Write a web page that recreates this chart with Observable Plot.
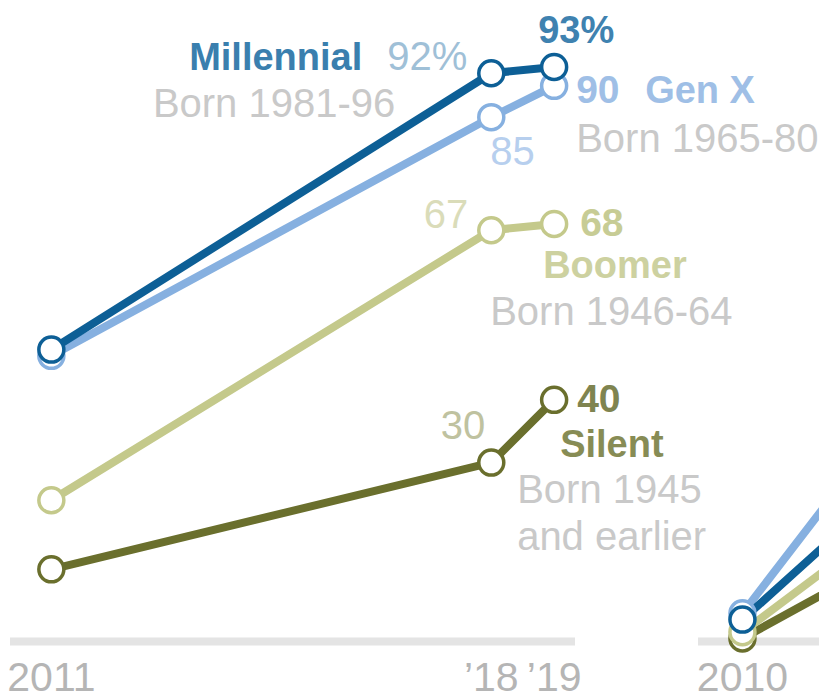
<!DOCTYPE html>
<html><head><meta charset="utf-8">
<script src="https://cdn.jsdelivr.net/npm/d3@7"></script>
<script src="https://cdn.jsdelivr.net/npm/@observablehq/plot@0.6"></script>
<style>
html,body{margin:0;padding:0;background:#fff;overflow:hidden;}
#wrap{position:relative;width:819px;height:699px;overflow:hidden;background:#fff;}
#wrap svg{position:absolute;top:0;}
</style></head><body><div id="wrap"></div>
<script>
// ---- data ----
const generations = ["Silent", "Boomer", "Gen X", "Millennial"];
const colors = ["#6a6f2d", "#c4c98b", "#86b0e0", "#0d5f96"];
const bornLabels = ["Born 1945\nand earlier", "Born 1946-64", "Born 1965-80", "Born 1981-96"];

const yearsLeft = [2011, 2018, 2019];
const silentLeft = [13, 30, 40];
const boomerLeft = [24, 67, 68];
const genXLeft = [47, 85, 90];
const millennialLeft = [48, 92, 93];
const tickLabelsLeft = ["2011", "\u201918", "\u201919"];

const yearsRight = [2010, 2012];
const silentRight = [2, 13];
const boomerRight = [3, 18];
const genXRight = [6, 32];
const millennialRight = [5, 23];
const ticksRight = [2010];
const tickLabelsRight = ["2010"];

// ---- build rows ----
function toRows(years, seriesList) {
  const out = [];
  generations.forEach((g, i) => years.forEach((yr, j) => out.push({gen: g, year: yr, value: seriesList[i][j]})));
  return out;
}
const leftRows = toRows(yearsLeft, [silentLeft, boomerLeft, genXLeft, millennialLeft]);
const rightRows = toRows(yearsRight, [silentRight, boomerRight, genXRight, millennialRight]);

const font = "'Liberation Sans', Arial, Helvetica, sans-serif";
const H = 699;
const pick = (g, yr) => leftRows.filter(d => d.gen === g && d.year === yr);
const valueText = d => d.gen === "Millennial" ? `${d.value}%` : `${d.value}`;
const nameOf = g => generations[generations.indexOf(g)];
const bornOf = g => bornLabels[generations.indexOf(g)];

function lab(g, yr, text, opts) {
  return Plot.text(pick(g, yr), {x: "year", y: "value", text, lineAnchor: "bottom", fontSize: 40, ...opts});
}

const labels = [
  // Millennial
  lab("Millennial", 2018, valueText, {textAnchor: "end", dx: -24, dy: -3, fill: "#9fc0d7"}),
  lab("Millennial", 2018, d => nameOf(d.gen), {textAnchor: "end", dx: -129, dy: -3, fill: "#3a7fae", fontWeight: "bold", fontSize: 38}),
  lab("Millennial", 2018, d => bornOf(d.gen), {textAnchor: "end", dx: -96, dy: 44, fill: "#c9c9c9"}),
  lab("Millennial", 2019, valueText, {textAnchor: "start", dx: -16, dy: -24, fill: "#3f82b0", fontWeight: "bold", fontSize: 38}),
  // Gen X
  lab("Gen X", 2018, valueText, {textAnchor: "start", dx: -1, dy: 48, fill: "#b7cfee"}),
  lab("Gen X", 2019, valueText, {textAnchor: "start", dx: 22, dy: 17, fill: "#9fbfe6", fontWeight: "bold", fontSize: 39}),
  lab("Gen X", 2019, d => nameOf(d.gen), {textAnchor: "start", dx: 91, dy: 17, fill: "#9fbfe6", fontWeight: "bold", fontSize: 38}),
  lab("Gen X", 2019, d => bornOf(d.gen), {textAnchor: "start", dx: 22, dy: 66, fill: "#c9c9c9"}),
  // Boomer
  lab("Boomer", 2018, valueText, {textAnchor: "end", dx: -23, dy: -2, fill: "#dadcb9"}),
  lab("Boomer", 2019, valueText, {textAnchor: "start", dx: 26, dy: 12, fill: "#c7cc95", fontWeight: "bold", fontSize: 39}),
  lab("Boomer", 2019, d => nameOf(d.gen), {textAnchor: "start", dx: -11, dy: 54, fill: "#cdd1a0", fontWeight: "bold", fontSize: 38}),
  lab("Boomer", 2019, d => bornOf(d.gen), {textAnchor: "start", dx: -64, dy: 101, fill: "#c9c9c9"}),
  // Silent
  lab("Silent", 2018, valueText, {textAnchor: "end", dx: -6, dy: -24, fill: "#bfc2a0"}),
  lab("Silent", 2019, valueText, {textAnchor: "start", dx: 23, dy: 12, fill: "#7f8450", fontWeight: "bold", fontSize: 39}),
  lab("Silent", 2019, d => nameOf(d.gen), {textAnchor: "start", dx: 6, dy: 57, fill: "#878c55", fontWeight: "bold", fontSize: 38}),
  lab("Silent", 2019, d => bornOf(d.gen), {textAnchor: "start", dx: -37, dy: 150, fill: "#c9c9c9", lineHeight: 1.175})
];

const common = {
  height: H, marginTop: 22.5, marginBottom: 48.5,
  y: {domain: [0, 100], axis: null},
  color: {domain: generations, range: colors}
};
const axisOpts = {tickSize: 0, tickPadding: 11, fontSize: 41, label: null};

const left = Plot.plot({
  ...common,
  width: 819, marginLeft: 10, marginRight: 244,
  style: {fontFamily: font, background: "white", color: "#b5b5b5", overflow: "visible"},
  x: {domain: [2010.35, 2019.34]},
  marks: [
    Plot.ruleY([0], {stroke: "#e4e4e4", strokeWidth: 8, dy: -9.5}),
    Plot.axisX(yearsLeft, {tickFormat: d => tickLabelsLeft[yearsLeft.indexOf(d)], ...axisOpts}),
    Plot.line(leftRows, {x: "year", y: "value", z: "gen", stroke: "gen", strokeWidth: 8}),
    Plot.dot(leftRows, {x: "year", y: "value", r: 12.5, fill: "white", stroke: "gen", strokeWidth: 3.5}),
    ...labels
  ]
});
left.style.left = "0px";

const right = Plot.plot({
  ...common,
  width: 600, marginLeft: 0, marginRight: 35,
  style: {fontFamily: font, background: "transparent", color: "#b5b5b5", overflow: "visible"},
  x: {domain: [2009.3, 2018.3]},
  marks: [
    Plot.ruleY([0], {stroke: "#e4e4e4", strokeWidth: 8, dy: -9.5}),
    Plot.axisX(ticksRight, {tickFormat: d => tickLabelsRight[ticksRight.indexOf(d)], ...axisOpts}),
    Plot.line(rightRows, {x: "year", y: "value", z: "gen", stroke: "gen", strokeWidth: 8}),
    Plot.dot(rightRows, {x: "year", y: "value", r: 12.5, fill: "white", stroke: "gen", strokeWidth: 3.5})
  ]
});
right.style.left = "698px";

const wrap = document.getElementById("wrap");
wrap.appendChild(left);
wrap.appendChild(right);
</script>
</body></html>
